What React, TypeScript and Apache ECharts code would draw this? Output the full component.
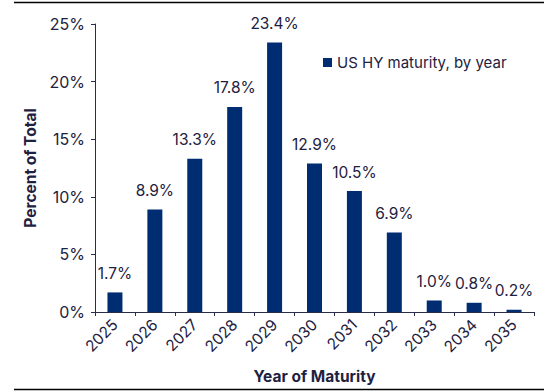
import React, { useEffect, useRef } from "react";
import * as echarts from "echarts";

const years = ["2025", "2026", "2027", "2028", "2029", "2030", "2031", "2032", "2033", "2034", "2035"];
const shares = [1.7, 8.9, 13.3, 17.8, 23.4, 12.9, 10.5, 6.9, 1.0, 0.8, 0.2];
const seriesName = "US HY maturity, by year";

const BAR = "#002D72";
const TEXT = "#1E2140";
const AXIS = "#2A2D4A";
const FONT = "Inter, 'Noto Sans', sans-serif";

export default function App() {
  const ref = useRef<HTMLDivElement>(null);
  useEffect(() => {
    if (!ref.current) return;
    const chart = echarts.init(ref.current, undefined, { renderer: "svg" });
    chart.setOption({
      animation: false,
      textStyle: { fontFamily: FONT, color: TEXT },
      grid: { left: 95, right: 10, top: 24, bottom: 80 },
      legend: {
        data: [seriesName],
        left: 318,
        top: 50,
        itemWidth: 9,
        itemHeight: 9,
        itemGap: 8,
        icon: "rect",
        textStyle: { fontFamily: FONT, fontSize: 15, color: TEXT },
      },
      xAxis: {
        type: "category",
        data: years,
        name: "Year of Maturity",
        nameLocation: "middle",
        nameGap: 56,
        nameTextStyle: { fontFamily: FONT, fontSize: 15.5, fontWeight: "bold", color: TEXT },
        axisLine: { lineStyle: { color: AXIS, width: 1 } },
        axisTick: { show: true, length: 4, lineStyle: { color: AXIS } },
        axisLabel: { rotate: 45, fontFamily: FONT, fontSize: 15.5, color: TEXT, margin: 10 },
      },
      yAxis: {
        type: "value",
        min: 0,
        max: 25,
        interval: 5,
        name: "Percent of Total",
        nameLocation: "middle",
        nameGap: 57,
        nameTextStyle: { fontFamily: FONT, fontSize: 15.5, fontWeight: "bold", color: TEXT },
        axisLine: { show: true, lineStyle: { color: AXIS, width: 1 } },
        axisTick: { show: true, length: 4, lineStyle: { color: AXIS } },
        splitLine: { show: false },
        axisLabel: { formatter: "{value}%", fontFamily: FONT, fontSize: 16, color: TEXT, margin: 10 },
      },
      series: [
        {
          name: seriesName,
          type: "bar",
          data: shares,
          barWidth: 15,
          itemStyle: { color: BAR },
          label: {
            show: true,
            position: "top",
            distance: 11,
            formatter: (p: any) => p.value.toFixed(1) + "%",
            fontFamily: FONT,
            fontSize: 15.5,
            color: TEXT,
          },
        },
      ],
      graphic: [
        { type: "line", shape: { x1: 14, y1: 2.5, x2: 544, y2: 2.5 }, style: { stroke: "#000", lineWidth: 1.5 } },
        { type: "line", shape: { x1: 14, y1: 389.5, x2: 544, y2: 389.5 }, style: { stroke: "#000", lineWidth: 1.5 } },
      ],
    });
    return () => chart.dispose();
  }, []);
  return (
    <div
      ref={ref}
      style={{ position: "fixed", left: 0, top: 0, width: 544, height: 392, background: "#fff" }}
    />
  );
}
